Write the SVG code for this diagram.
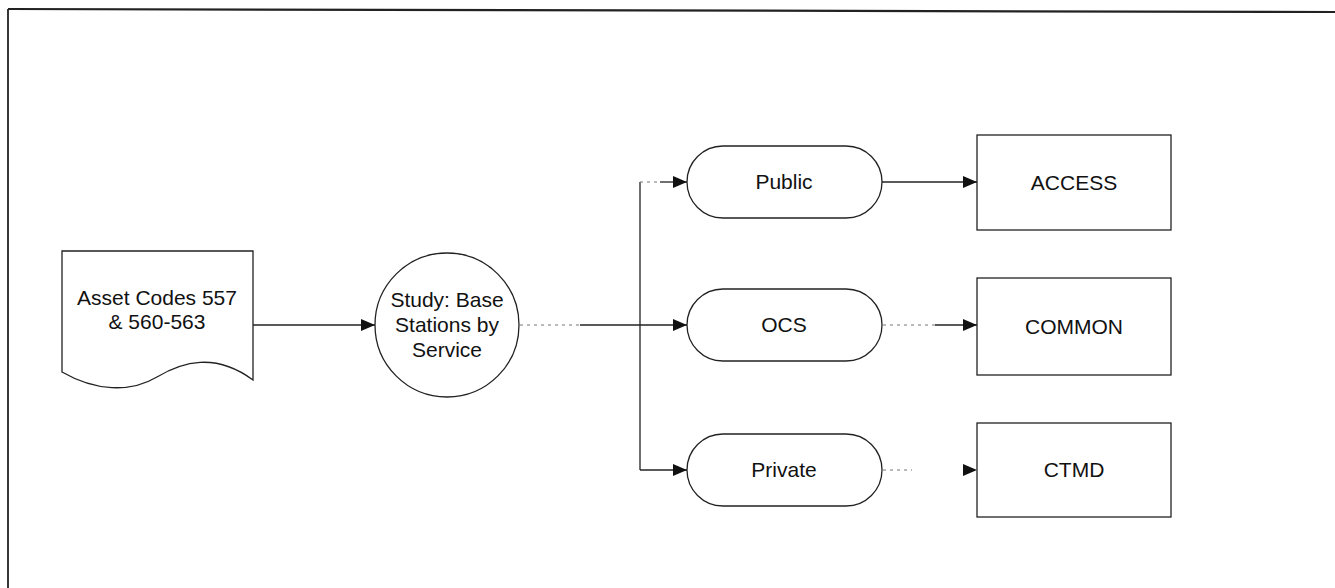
<svg xmlns="http://www.w3.org/2000/svg" width="1335" height="588" viewBox="0 0 1335 588">
<defs>
<marker id="arr" markerUnits="userSpaceOnUse" markerWidth="14" markerHeight="12" refX="14" refY="6" orient="auto">
<path d="M0,0 L14,6 L0,12 Z" fill="#111"/>
</marker>
<style>
.shape{fill:#fff;stroke:#222;stroke-width:1.3}
.lbl{font-family:"Liberation Sans",Arial,sans-serif;font-size:21px;fill:#111;text-anchor:middle}
.conn{fill:none;stroke:#222;stroke-width:1.3}
.faint{fill:none;stroke:#777;stroke-width:1.2;stroke-dasharray:3,4}
</style>
</defs>
<rect width="1335" height="588" fill="#fff"/>
<g id="frame">
<line x1="8" y1="9" x2="1335" y2="12" stroke="#222" stroke-width="2.2"/>
<line x1="8" y1="9" x2="8" y2="588" stroke="#222" stroke-width="1.8"/>
</g>
<g id="connectors">
<line class="conn" x1="253" y1="325" x2="375" y2="325" marker-end="url(#arr)"/>
<line class="faint" x1="520" y1="325" x2="580" y2="325"/>
<line class="conn" x1="580" y1="325" x2="687" y2="325" marker-end="url(#arr)"/>
<line class="conn" x1="640" y1="182" x2="640" y2="470"/>
<line class="faint" x1="640" y1="182" x2="660" y2="182"/>
<line class="conn" x1="660" y1="182" x2="687" y2="182" marker-end="url(#arr)"/>
<line class="conn" x1="640" y1="470" x2="687" y2="470" marker-end="url(#arr)"/>
<line class="conn" x1="882" y1="182" x2="977" y2="182" marker-end="url(#arr)"/>
<line class="faint" x1="883" y1="325" x2="935" y2="325"/>
<line class="conn" x1="935" y1="325" x2="977" y2="325" marker-end="url(#arr)"/>
<line class="faint" x1="883" y1="470" x2="912" y2="470"/>
<line stroke="none" x1="960" y1="470" x2="977" y2="470" marker-end="url(#arr)"/>
</g>
<g id="asset-codes">
<path class="shape" d="M62,251 H253 V380 C215,352 182,362 157,377 C130,393 95,391 62,372 Z"/>
<text class="lbl" x="157" y="305">Asset Codes 557</text>
<text class="lbl" x="157" y="329">&amp; 560-563</text>
</g>
<g id="study">
<circle class="shape" cx="447" cy="325" r="72"/>
<text class="lbl" x="447" y="307">Study: Base</text>
<text class="lbl" x="447" y="332">Stations by</text>
<text class="lbl" x="447" y="357">Service</text>
</g>
<g id="public">
<rect class="shape" x="687" y="146" width="195" height="72" rx="36"/>
<text class="lbl" x="784" y="189">Public</text>
</g>
<g id="ocs">
<rect class="shape" x="687" y="289" width="195" height="72" rx="36"/>
<text class="lbl" x="784" y="332">OCS</text>
</g>
<g id="private">
<rect class="shape" x="687" y="434" width="195" height="72" rx="36"/>
<text class="lbl" x="784" y="477">Private</text>
</g>
<g id="access">
<rect class="shape" x="977" y="135" width="194" height="95"/>
<text class="lbl" x="1074" y="190">ACCESS</text>
</g>
<g id="common">
<rect class="shape" x="977" y="278" width="194" height="97"/>
<text class="lbl" x="1074" y="334">COMMON</text>
</g>
<g id="ctmd">
<rect class="shape" x="977" y="423" width="194" height="94"/>
<text class="lbl" x="1074" y="477">CTMD</text>
</g>
</svg>
